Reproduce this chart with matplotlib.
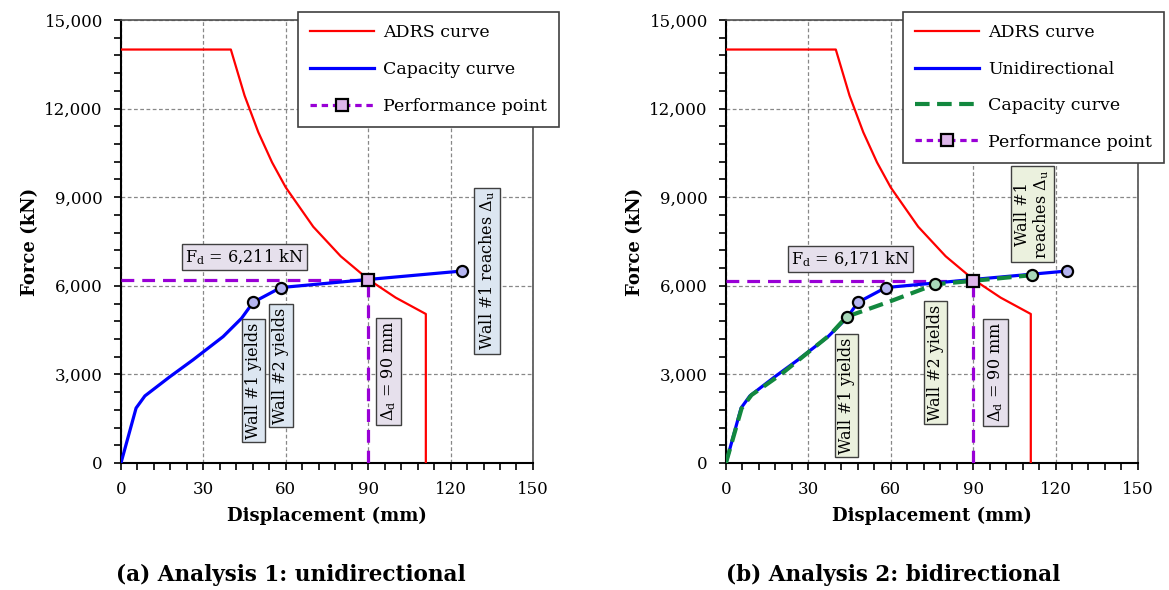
import numpy as np
import matplotlib
matplotlib.use("Agg")
from matplotlib import pyplot as plt
from matplotlib.ticker import MultipleLocator, FuncFormatter
from matplotlib.lines import Line2D

plt.rcParams['font.family'] = ['DejaVu Serif']
plt.rcParams['mathtext.fontset'] = 'custom'
plt.rcParams['mathtext.rm'] = 'DejaVu Serif'

# ADRS demand curve (mm, kN), same in both panels
adrs_d = [0, 40, 45, 50, 55, 60, 70, 80, 90, 100, 111, 111]
adrs_f = [14000, 14000, 12440, 11200, 10180, 9330, 8000, 7000, 6220, 5600, 5045, 0]

# unidirectional capacity curve
uni_d = [0, 5.5, 8.7, 17.8, 26.2, 37.2, 43.9, 48.1, 58.2, 90.2, 124.2]
uni_f = [0, 1860, 2270, 2920, 3490, 4280, 4900, 5440, 5940, 6215, 6500]
uni_pts_d = [48.1, 58.2, 124.2]
uni_pts_f = [5440, 5940, 6500]

# bidirectional capacity curve
bi_d = [0, 5.7, 9.3, 20, 30, 38, 43.9, 60, 76.2, 90.3, 111.4]
bi_f = [0, 1850, 2300, 3000, 3750, 4350, 4950, 5480, 6050, 6171, 6360]
bi_pts_d = [43.9, 76.2, 111.4]
bi_pts_f = [4950, 6050, 6360]

# performance points
perf_d = [90, 90]
perf_f = [6211, 6171]

RED = '#FF0000'
BLUE = '#0000FF'
GREEN = '#12883E'
PURPLE = '#9900D6'
SQ_FILL = '#DDB6EA'
BLUE_FILL = '#B4B4F0'
GREEN_FILL = '#A8D8B9'
WALL_BOX = '#DCE6F1'
WALL_BOX2 = '#EBF1DE'
PP_BOX = '#E6E0EC'


def style_axes(ax):
    ax.set_xlim(0, 150)
    ax.set_ylim(0, 15000)
    ax.xaxis.set_major_locator(MultipleLocator(30))
    ax.xaxis.set_minor_locator(MultipleLocator(6))
    ax.yaxis.set_major_locator(MultipleLocator(3000))
    ax.yaxis.set_minor_locator(MultipleLocator(600))
    ax.yaxis.set_major_formatter(FuncFormatter(lambda v, p: f"{int(v):,}"))
    ax.tick_params(which='both', direction='out', length=5, width=1.2, labelsize=12,
                   pad=8)
    ax.grid(True, which='major', linestyle=(0, (3, 2)), color='#888888', lw=0.9)
    ax.set_axisbelow(True)
    for s in ['left', 'bottom']:
        ax.spines[s].set_color('black')
        ax.spines[s].set_linewidth(1.5)
    for s in ['top', 'right']:
        ax.spines[s].set_color('#505050')
        ax.spines[s].set_linewidth(1.2)
    ax.set_xlabel('Displacement (mm)', fontsize=13, fontweight='bold', labelpad=6)
    ax.set_ylabel('Force (kN)', fontsize=13, fontweight='bold', labelpad=4)


def box_text(ax, x, y, s, fc, rot=0):
    ax.text(x, y, s, rotation=rot, ha='center', va='center', fontsize=11.5,
            zorder=6, linespacing=1.0,
            bbox=dict(boxstyle='square,pad=0.2', fc=fc, ec='#404040', lw=1))


def perf_lines(ax, d, f):
    ax.plot([0, d], [f, f], color=PURPLE, lw=2.3, ls=(0, (4, 2.5)), zorder=4)
    ax.plot([d, d], [0, f], color=PURPLE, lw=2.3, ls=(0, (4, 2.5)), zorder=4)
    ax.plot([d], [f], marker='s', ms=9, mfc=SQ_FILL, mec='black', mew=1.6, zorder=7)


def add_legend(ax, handles, labels, spacing):
    leg = ax.legend(handles, labels, loc='upper left', bbox_to_anchor=(0.4296, 1.018),
                    borderaxespad=0, fontsize=12.5, fancybox=False, edgecolor='#404040',
                    framealpha=1, handlelength=3.7, handletextpad=0.5, borderpad=0.7,
                    labelspacing=spacing, numpoints=1)
    leg.get_frame().set_linewidth(1.2)
    leg.set_zorder(10)
    return leg


fig = plt.figure(figsize=(11.69, 5.9), dpi=100)
ax1 = fig.add_axes([0.1035, 0.2153, 0.3524, 0.7508])
ax2 = fig.add_axes([0.621, 0.2153, 0.3524, 0.7508])

pp_handle = Line2D([], [], color=PURPLE, lw=2.3, ls=(0, (2, 1.5)), marker='s', ms=9,
                   mfc=SQ_FILL, mec='black', mew=1.6)

# panel (a)
style_axes(ax1)
ax1.plot(adrs_d, adrs_f, color=RED, lw=1.6, zorder=3)
perf_lines(ax1, perf_d[0], perf_f[0])
ax1.plot(uni_d, uni_f, color=BLUE, lw=2.3, zorder=5)
ax1.plot(uni_pts_d, uni_pts_f, ls='none', marker='o', ms=8, mfc=BLUE_FILL, mec='black',
         mew=1.6, zorder=7)
box_text(ax1, 44.9, 6975, 'F$_\\mathregular{d}$ = 6,211 kN', PP_BOX)
box_text(ax1, 48.3, 2783, 'Wall #1 yields', WALL_BOX, 90)
box_text(ax1, 58.2, 3291, 'Wall #2 yields', WALL_BOX, 90)
box_text(ax1, 97.5, 3108, 'Δ$_\\mathregular{d}$ = 90 mm', PP_BOX, 90)
box_text(ax1, 133.4, 6508, 'Wall #1 reaches Δ$_\\mathregular{u}$', WALL_BOX, 90)
h1 = [Line2D([], [], color=RED, lw=1.6), Line2D([], [], color=BLUE, lw=2.3), pp_handle]
add_legend(ax1, h1, ['ADRS curve', 'Capacity curve', 'Performance point'], 1.15)

# panel (b)
style_axes(ax2)
ax2.plot(adrs_d, adrs_f, color=RED, lw=1.6, zorder=3)
perf_lines(ax2, perf_d[1], perf_f[1])
ax2.plot(uni_d, uni_f, color=BLUE, lw=2.3, zorder=5)
ax2.plot(bi_d, bi_f, color=GREEN, lw=3, ls=(0, (3.5, 1.8)), zorder=5)
ax2.plot(uni_pts_d, uni_pts_f, ls='none', marker='o', ms=8, mfc=BLUE_FILL, mec='black',
         mew=1.6, zorder=7)
ax2.plot(bi_pts_d, bi_pts_f, ls='none', marker='o', ms=8, mfc=GREEN_FILL, mec='black',
         mew=1.6, zorder=7)
box_text(ax2, 45.3, 6898, 'F$_\\mathregular{d}$ = 6,171 kN', PP_BOX)
box_text(ax2, 44.0, 2276, 'Wall #1 yields', WALL_BOX2, 90)
box_text(ax2, 76.2, 3396, 'Wall #2 yields', WALL_BOX2, 90)
box_text(ax2, 98.2, 3075, 'Δ$_\\mathregular{d}$ = 90 mm', PP_BOX, 90)
box_text(ax2, 111.5, 8425, 'Wall #1\nreaches Δ$_\\mathregular{u}$', WALL_BOX2, 90)
h2 = [Line2D([], [], color=RED, lw=1.6), Line2D([], [], color=BLUE, lw=2.3),
      Line2D([], [], color=GREEN, lw=3, ls=(0, (3.5, 1.8))), pp_handle]
add_legend(ax2, h2, ['ADRS curve', 'Unidirectional', 'Capacity curve', 'Performance point'],
           1.12)

fig.text(0.249, 0.025, '(a) Analysis 1: unidirectional', ha='center', va='center',
         fontsize=15.5, fontweight='bold')
fig.text(0.764, 0.025, '(b) Analysis 2: bidirectional', ha='center', va='center',
         fontsize=15.5, fontweight='bold')

fig.savefig('out.png', dpi=100)
